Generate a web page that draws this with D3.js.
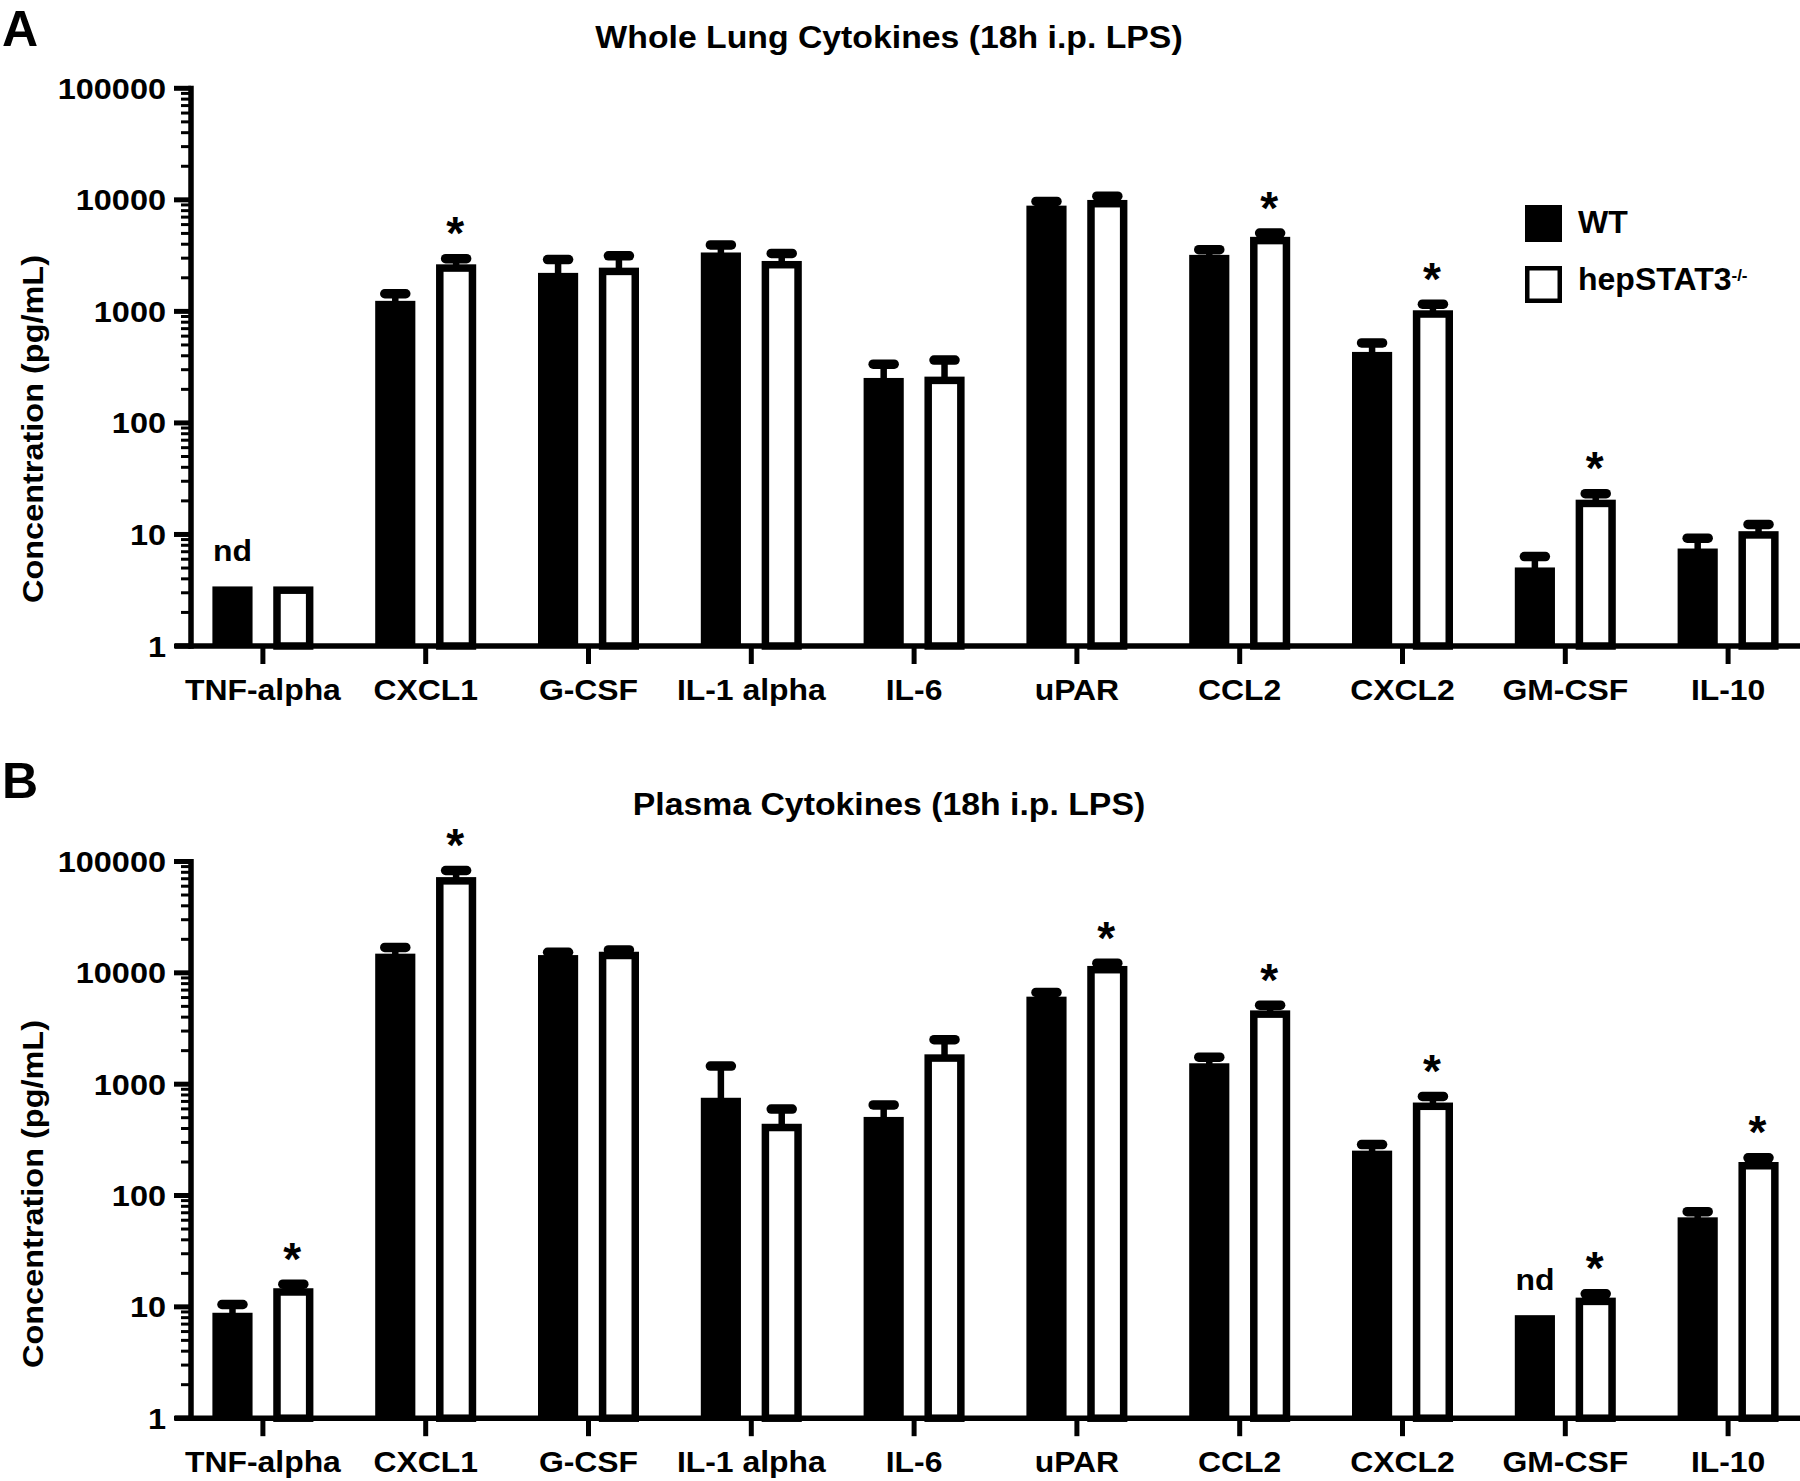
<!DOCTYPE html>
<html>
<head>
<meta charset="utf-8">
<script src="https://cdn.jsdelivr.net/npm/d3@7"></script>
<style>
  html, body { margin: 0; padding: 0; background: #fff; }
  svg { display: block; }
  text { font-family: "Liberation Sans", Arial, Helvetica, sans-serif; font-weight: bold; fill: #000; }
</style>
</head>
<body>
<svg id="chart" width="1800" height="1481"></svg>
<script>
// ---------------- data ----------------
const categories = ["TNF-alpha", "CXCL1", "G-CSF", "IL-1 alpha", "IL-6", "uPAR", "CCL2", "CXCL2", "GM-CSF", "IL-10"];
const series = ["WT", "hepSTAT3"];

// Panel A: Whole Lung Cytokines (pg/mL), mean and mean+SEM
const lungWT       = [3.42, 1243, 2214, 3373, 253, 8872, 3211, 433, 5.06, 7.48];
const lungWTUpper  = [null, 1439, 2911, 3945, 336, 9683, 3573, 521, 6.34, 9.27];
const lungHep      = [3.42, 2642, 2466, 2831, 260, 9976, 4659, 1023, 20.5, 10.7];
const lungHepUpper = [null, 2971, 3148, 3309, 366, 10790, 5035, 1161, 23.2, 12.3];
const lungStars    = ["CXCL1", "CCL2", "CXCL2", "GM-CSF"];
const lungND       = ["TNF-alpha"];

// Panel B: Plasma Cytokines (pg/mL)
const plasmaWT       = [8.85, 14870, 14440, 755, 508, 6110, 1541, 253, 8.42, 63.7];
const plasmaWTUpper  = [10.5, 16900, 15310, 1453, 651, 6670, 1749, 287, null, 71.6];
const plasmaHep      = [14.7, 72400, 15470, 441, 1854, 11530, 4600, 684, 12.1, 200];
const plasmaHepUpper = [16.0, 83000, 16070, 597, 2512, 12220, 5126, 777, 13.1, 218];
const plasmaStars    = ["TNF-alpha", "CXCL1", "uPAR", "CCL2", "CXCL2", "GM-CSF", "IL-10"];
const plasmaND       = ["GM-CSF"];

const yTickValues = [1, 10, 100, 1000, 10000, 100000];
const yTickLabels = ["1", "10", "100", "1000", "10000", "100000"];
const panelTitles = ["Whole Lung Cytokines (18h i.p. LPS)", "Plasma Cytokines (18h i.p. LPS)"];
const panelLetters = ["A", "B"];
const yAxisTitle = "Concentration (pg/mL)";
const legendLabels = ["WT", "hepSTAT3"];
const legendSup = "-/-";

// ---------------- drawing ----------------
const svg = d3.select("#chart");

function txt(g, x, y, str, size, anchor, sx, rot) {
  const t = g.append("text")
    .attr("transform", `translate(${x},${y})` + (rot ? ` rotate(${rot})` : "") + ` scale(${sx || 1},1)`)
    .attr("font-size", size)
    .attr("text-anchor", anchor || "start")
    .text(str);
  return t;
}

const x = d3.scaleBand().domain(categories).range([181.5, 181.5 + 162.8 * 10]).padding(0);
const xs = d3.scaleBand().domain(series).range([0, 101]).paddingInner(0.34).paddingOuter(0);

const panels = [
  { wt: lungWT, wtU: lungWTUpper, hep: lungHep, hepU: lungHepUpper, stars: lungStars, nd: lungND,
    top: 88.3, bottom: 646, titleY: 48, letterY: 46, labelY: 700, yTitleY: 429, legend: true },
  { wt: plasmaWT, wtU: plasmaWTUpper, hep: plasmaHep, hepU: plasmaHepUpper, stars: plasmaStars, nd: plasmaND,
    top: 861.5, bottom: 1418.2, titleY: 815, letterY: 798, labelY: 1472, yTitleY: 1194, legend: false }
];

const axisX = 191;
const barW = xs.bandwidth();
const hepSW = 7.5;

panels.forEach((p, pi) => {
  const g = svg.append("g");
  const y = d3.scaleLog().domain([1, 100000]).range([p.bottom, p.top]);
  const y0 = y(1);

  // panel letter & title
  txt(g, 2, p.letterY, panelLetters[pi], 50, "start", 1);
  txt(g, 889, p.titleY, panelTitles[pi], 31, "middle", 1.09);

  // y axis title
  txt(g, 43, p.yTitleY, yAxisTitle, 29, "middle", 1.12, -90);

  // bars
  categories.forEach((c, i) => {
    const cx = x(c) + x.bandwidth() / 2 - 50.5;
    // WT bar
    const wx = cx + xs("WT");
    g.append("rect").attr("x", wx).attr("y", y(p.wt[i])).attr("width", barW)
      .attr("height", y0 - y(p.wt[i])).attr("fill", "#000");
    if (p.wtU[i] != null) {
      g.append("line").attr("x1", wx + barW / 2).attr("x2", wx + barW / 2)
        .attr("y1", y(p.wt[i]) + 2).attr("y2", y(p.wtU[i]))
        .attr("stroke", "#000").attr("stroke-width", 6.5);
      g.append("line").attr("x1", wx + barW / 2 - 10.5).attr("x2", wx + barW / 2 + 10.5)
        .attr("y1", y(p.wtU[i])).attr("y2", y(p.wtU[i]))
        .attr("stroke", "#000").attr("stroke-width", 9.5).attr("stroke-linecap", "round");
    }
    // hep bar
    const hx = cx + xs("hepSTAT3");
    if (p.hepU[i] != null) {
      g.append("line").attr("x1", hx + barW / 2).attr("x2", hx + barW / 2)
        .attr("y1", y(p.hep[i]) + 2).attr("y2", y(p.hepU[i]))
        .attr("stroke", "#000").attr("stroke-width", 6.5);
      g.append("line").attr("x1", hx + barW / 2 - 10.5).attr("x2", hx + barW / 2 + 10.5)
        .attr("y1", y(p.hepU[i])).attr("y2", y(p.hepU[i]))
        .attr("stroke", "#000").attr("stroke-width", 9.5).attr("stroke-linecap", "round");
    }
    g.append("rect").attr("x", hx + hepSW / 2).attr("y", y(p.hep[i]) + hepSW / 2)
      .attr("width", barW - hepSW).attr("height", y0 - y(p.hep[i]) - hepSW / 2)
      .attr("fill", "#fff").attr("stroke", "#000").attr("stroke-width", hepSW);

    // star
    if (p.stars.includes(c)) {
      const ty = p.hepU[i] != null ? y(p.hepU[i]) : y(p.hep[i]);
      txt(g, hx + barW / 2 - 1, ty - 9.5, "*", 46, "middle", 1);
    }
    if (p.nd.includes(c)) {
      txt(g, wx + barW / 2, y(p.wt[i]) - 25, "nd", 29, "middle", 1.1);
    }
  });

  // y axis: minor ticks
  const minor = y.ticks().filter(v => !yTickValues.includes(v));
  minor.forEach(v => {
    g.append("line").attr("x1", axisX - 10).attr("x2", axisX).attr("y1", y(v)).attr("y2", y(v))
      .attr("stroke", "#000").attr("stroke-width", 3);
  });
  yTickValues.forEach((v, k) => {
    g.append("line").attr("x1", axisX - 17).attr("x2", axisX).attr("y1", y(v)).attr("y2", y(v))
      .attr("stroke", "#000").attr("stroke-width", 5);
    txt(g, 166, y(v) + 10.5, yTickLabels[k], 29, "end", 1.12);
  });
  g.append("line").attr("x1", axisX).attr("x2", axisX).attr("y1", y(100000) - 2.5).attr("y2", y0 + 2.75)
    .attr("stroke", "#000").attr("stroke-width", 5.5);
  // x axis
  g.append("line").attr("x1", 175).attr("x2", 1800).attr("y1", y0).attr("y2", y0)
    .attr("stroke", "#000").attr("stroke-width", 5.5);
  categories.forEach(c => {
    const cx = x(c) + x.bandwidth() / 2;
    g.append("line").attr("x1", cx).attr("x2", cx).attr("y1", y0).attr("y2", y0 + 18)
      .attr("stroke", "#000").attr("stroke-width", 5);
    txt(g, cx, p.labelY, c, 29, "middle", 1.1);
  });

  // legend
  if (p.legend) {
    g.append("rect").attr("x", 1525).attr("y", 205).attr("width", 37).attr("height", 37).attr("fill", "#000");
    g.append("rect").attr("x", 1527.25).attr("y", 268.25).attr("width", 32.5).attr("height", 32.5)
      .attr("fill", "#fff").attr("stroke", "#000").attr("stroke-width", 4.5);
    txt(g, 1578, 233, legendLabels[0], 32, "start", 1);
    const t = txt(g, 1578, 290, legendLabels[1], 32, "start", 1);
    t.append("tspan").attr("font-size", 17).attr("dy", -9).text(legendSup);
  }
});
</script>
</body>
</html>
